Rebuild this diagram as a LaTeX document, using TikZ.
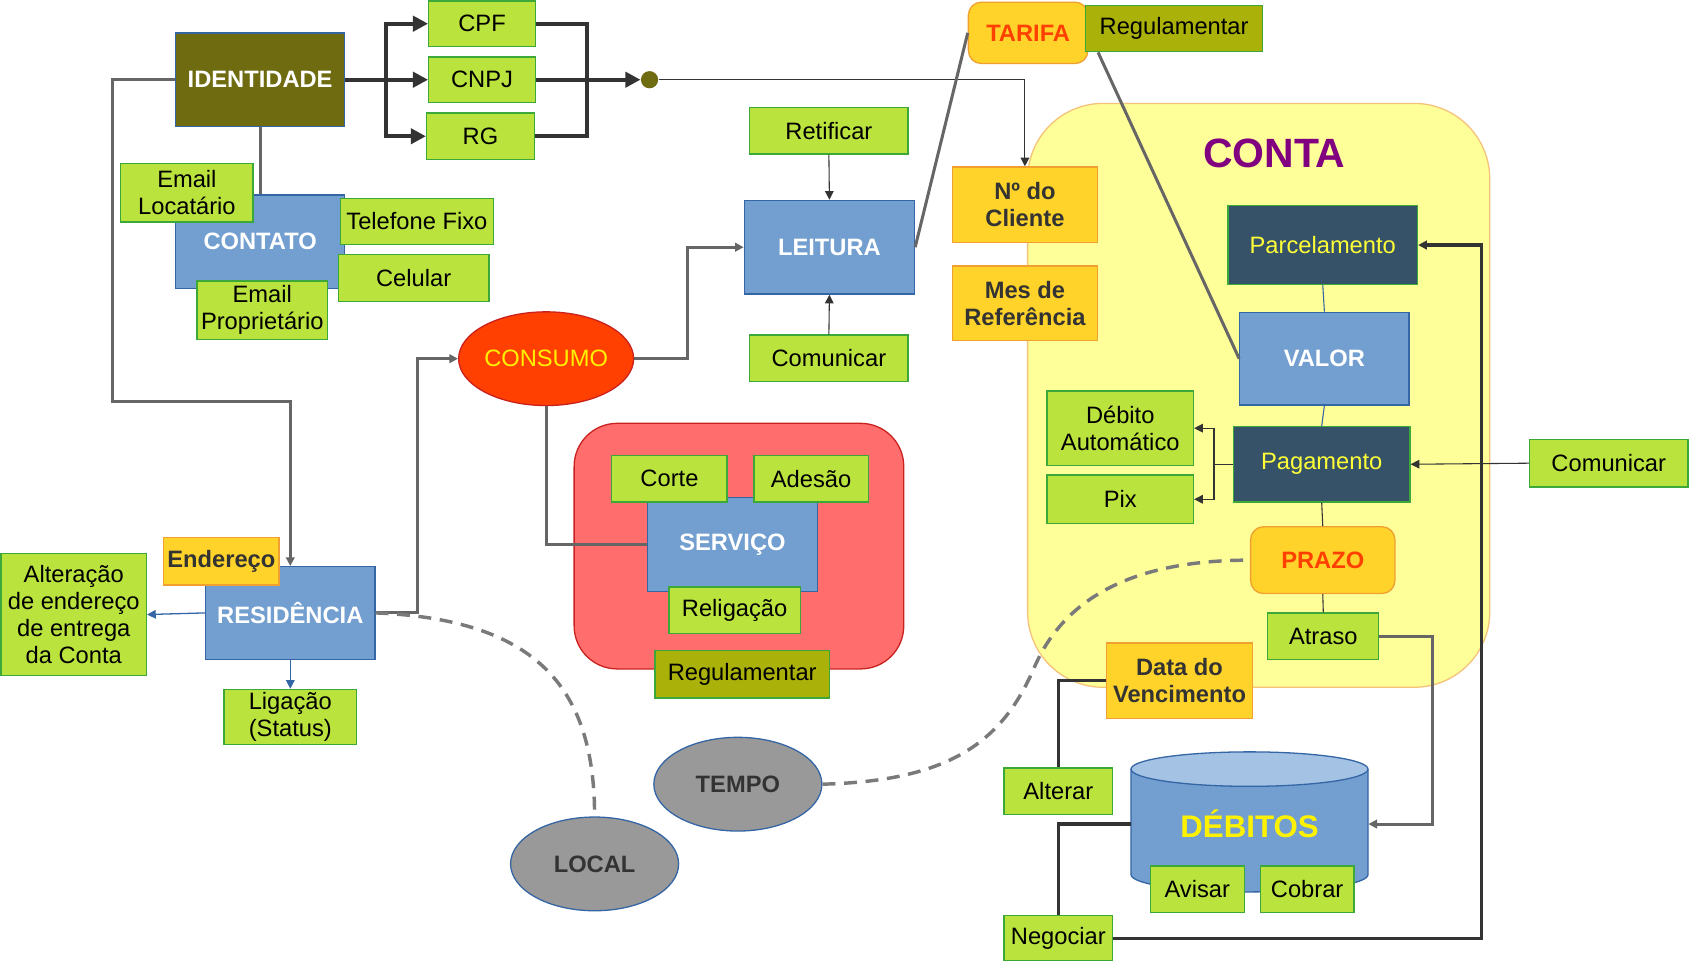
\documentclass[tikz,border=0pt]{standalone}
\usepackage{fontspec}
\setmainfont{Liberation Sans}
\usetikzlibrary{arrows.meta,shapes.geometric,calc}
\definecolor{grn}{HTML}{BBE33E}
\definecolor{grnb}{HTML}{3DA83A}
\definecolor{blu}{HTML}{729FCF}
\definecolor{blub}{HTML}{3465A4}
\definecolor{slate}{HTML}{355269}
\definecolor{gold}{HTML}{FFD32A}
\definecolor{goldb}{HTML}{F0A030}
\definecolor{olv}{HTML}{6F6B10}
\definecolor{olv2}{HTML}{AAB20A}
\definecolor{consc}{HTML}{FF4000}
\definecolor{consb}{HTML}{C9211E}
\definecolor{redr}{HTML}{FF6D6D}
\definecolor{redb}{HTML}{C9211E}
\definecolor{yelr}{HTML}{FFFF99}
\definecolor{yelb}{HTML}{F5C27A}
\definecolor{gry}{HTML}{999999}
\definecolor{txtd}{HTML}{333333}
\definecolor{lnc}{HTML}{666666}
\definecolor{tarc}{HTML}{FF4000}
\definecolor{purp}{HTML}{800080}
\definecolor{ylw}{HTML}{FFFF38}
\definecolor{cylt}{HTML}{A4C2E4}
\newcommand{\fsn}{\fontsize{11}{12.5}\selectfont}
\tikzset{
 sz/.style 2 args={minimum width=#1*0.5pt, minimum height=#2*0.5pt},
 base/.style={draw, line width=0.6pt, inner sep=1pt, align=center, font=\fsn},
 gbox/.style={base, fill=grn, draw=grnb},
 bbox/.style={base, fill=blu, draw=blub, text=white, font=\fsn\bfseries},
 dbox/.style={base, fill=slate, draw=grnb, text=ylw},
 obox/.style={base, fill=gold, draw=goldb, text=txtd, font=\fsn\bfseries},
 rbox/.style={obox, rounded corners=6pt, text=tarc},
 lbox/.style={base, fill=olv2, draw=grnb},
 ell/.style={ellipse, draw=blub, line width=0.6pt, inner sep=0pt, font=\fsn\bfseries, text=txtd, fill=gry},
 thk/.style={draw=txtd, line width=1.8pt},
 dk/.style={draw=txtd, line width=1.5pt},
 gl/.style={draw=lnc, line width=1.4pt},
 tn/.style={draw=txtd, line width=0.5pt},
 bt/.style={draw=blub, line width=0.6pt},
 dsh/.style={draw=gry!80!black, line width=1.6pt, dash pattern=on 6pt off 4pt},
 bigtip/.style={-{Triangle[length=7pt,width=7pt]}},
 smtip/.style={-{Triangle[length=4pt,width=4pt]}},
}
\begin{document}
\begin{tikzpicture}[x=0.5pt,y=-0.5pt]
\useasboundingbox (0,0) rectangle (1568,894);
% regions
\draw[fill=yelr, draw=yelb, line width=0.6pt, rounded corners=35pt] (954,96) rectangle (1383,638);
\node[font=\fontsize{19}{22}\selectfont\bfseries, text=purp] (conta) at (1183,142) {CONTA};
\draw[fill=redr, draw=redb, line width=0.6pt, rounded corners=20pt] (533,393) rectangle (839,621);

% identity
\node[base, fill=olv, draw=blub, text=white, font=\fsn\bfseries, sz={157}{87}] (id) at (241.5,74) {IDENTIDADE};
\node[gbox, sz={99}{42}] (cpf) at (447.5,22) {CPF};
\node[gbox, sz={99}{42}] (cnpj) at (447.5,74) {CNPJ};
\node[gbox, sz={100}{43}] (rg) at (446,126.5) {RG};
\node[circle, fill=olv, inner sep=0pt, minimum size=8pt] (dot) at (603,74) {};

% contact
\node[bbox, sz={157}{87}] (contato) at (241.5,224.5) {CONTATO};
\node[gbox, sz={123}{54}] (emloc) at (173.5,179) {Email\\Locatário};
\node[gbox, sz={142}{43}] (tel) at (387,205.5) {Telefone Fixo};
\node[gbox, sz={140}{44}] (cel) at (384,258) {Celular};
\node[gbox, sz={121}{54}] (emprop) at (243.5,288) {Email\\Proprietário};

% consumo / leitura
\node[ell, fill=consc, draw=consb, text=yellow, font=\fsn, minimum width=78pt, minimum height=43.5pt] (cons) at (507,333) {CONSUMO};
\node[bbox, sz={158}{87}] (leit) at (770,229.5) {LEITURA};
\node[gbox, sz={147}{43}] (retif) at (769.5,121.5) {Retificar};
\node[gbox, sz={147}{43}] (com1) at (769.5,332.5) {Comunicar};

% tarifa
\node[rbox, sz={111}{57}] (tarifa) at (954.5,30.5) {TARIFA};
\node[lbox, sz={164}{43}] (reg1) at (1090,26.5) {Regulamentar};
\node[obox, sz={135}{70}] (ndc) at (951.5,190) {Nº do\\Cliente};
\node[obox, sz={135}{69}] (mes) at (951.5,281.5) {Mes de\\Referência};

% conta inner
\node[dbox, sz={176}{73}] (parc) at (1228,227.5) {Parcelamento};
\node[bbox, sz={157}{86}] (valor) at (1229.5,333) {VALOR};
\node[dbox, sz={164}{70}] (pag) at (1227,431) {Pagamento};
\node[gbox, sz={136}{69}] (deb) at (1040,397.5) {Débito\\Automático};
\node[gbox, sz={136}{45}] (pix) at (1040,463.5) {Pix};
\node[gbox, sz={147}{44}] (com2) at (1493.5,430) {Comunicar};
\node[rbox, sz={134}{62}] (prazo) at (1228,520) {PRAZO};
\node[gbox, sz={103}{43}] (atraso) at (1228.5,590.5) {Atraso};
\node[obox, sz={136}{70}] (dv) at (1095,632) {Data do\\Vencimento};
\node[gbox, sz={101}{43}] (alt) at (982.5,734.5) {Alterar};

% debitos cylinder
\draw[fill=blu, draw=blub, line width=0.6pt] (1050,714) -- (1050,812) arc[start angle=180, end angle=360, x radius=55pt, y radius=8pt] -- (1270,714);
\draw[fill=cylt, draw=blub, line width=0.6pt] (1160,714) ellipse[x radius=55pt, y radius=8pt];
\node[inner sep=0pt, sz={220}{130}, font=\fontsize{14.5}{16}\selectfont\bfseries, text=yellow] (debitos) at (1160,765) {\raisebox{-3pt}{DÉBITOS}};
\node[gbox, sz={87}{43}] (avisar) at (1111.5,825.5) {Avisar};
\node[gbox, sz={87}{43}] (cobrar) at (1213.5,825.5) {Cobrar};
\node[gbox, sz={101}{42}] (neg) at (982.5,871) {Negociar};

% servico
\node[bbox, sz={158}{87}] (serv) at (680,505.5) {SERVIÇO};
\node[gbox, sz={107}{43}] (corte) at (621.5,444.5) {Corte};
\node[gbox, sz={106}{43}] (ades) at (753,444.5) {Adesão};
\node[gbox, sz={122}{43}] (relig) at (682,566.5) {Religação};
\node[lbox, sz={162}{44}] (reg2) at (689,626) {Regulamentar};

% residencia
\node[bbox, sz={157}{86}] (res) at (269.5,569) {RESIDÊNCIA};
\node[obox, sz={107}{44}] (end) at (205.5,521) {Endereço};
\node[gbox, sz={135}{113}] (alter) at (68.5,570.5) {Alteração\\de endereço\\de entrega\\da Conta};
\node[gbox, sz={123}{51}] (lig) at (269.5,665.5) {Ligação\\(Status)};

% ellipses
\node[ell, minimum width=78pt, minimum height=43.5pt] (tempo) at (685,728) {TEMPO};
\node[ell, minimum width=78pt, minimum height=43.5pt] (local) at (552,802) {LOCAL};

% coordinates
\coordinate (j1) at (358,74);
\coordinate (j2) at (545,74);
\coordinate (c1) at (104,373);
\coordinate (c2) at (388,333);
\coordinate (c3) at (638,229.5);
\coordinate (c4) at (1127,431);
\coordinate (c5) at (1330,765);
\coordinate (c6) at (1375,227.5);

% identity connectors
\draw[thk] (id.east) -- (j1);
\draw[thk, bigtip] (j1) |- (cpf.west);
\draw[thk, bigtip] (j1) -- (cnpj.west);
\draw[thk, bigtip] (j1) |- (rg.west);
\draw[thk] (cpf.east) -| (j2) |- (rg.east);
\draw[thk, bigtip] (cnpj.east) -- (dot.west);
\draw[tn, smtip] (dot.east) -| (ndc.north);
\draw[gl, smtip] (id.west) -| (c1) -| (res.north);
\draw[gl] (id.south) -- (contato.north);

% consumo connectors
\draw[gl, smtip] (res.east) -| (c2) -- (cons.west);
\draw[gl, smtip] (cons.east) -| (c3) -- (leit.west);
\draw[gl] (cons.south) |- (serv.west);
\draw[tn, smtip] (retif.south) -- (leit.north);
\draw[tn, smtip] (com1.north) -- (leit.south);
\draw[gl] (leit.east) -- (tarifa.west);
\draw[gl] ([xshift=6pt]reg1.south west) -- (valor.west);

% conta connectors
\draw[draw=blub, line width=0.5pt] (parc.south) -- (valor.north);
\draw[draw=blub, line width=0.5pt] (valor.south) -- (pag.north);
\draw[tn] (pag.south) -- (prazo.north);
\draw[tn] (prazo.south) -- (atraso.north);
\draw[tn] (pag.west) -- (c4);
\draw[tn, smtip] (c4) |- (deb.east);
\draw[tn, smtip] (c4) |- (pix.east);
\draw[tn, smtip] (com2.west) -- (pag.east);
\draw[gl, smtip] (atraso.east) -| (c5) -- (debitos.east);
\draw[dk] (dv.west) -| (alt.north);
\draw[dk] (debitos.west) -| (neg.north);
\draw[dk, smtip] (neg.east) -| (c6) -- (parc.east);

% residencia connectors
\draw[bt, smtip] (res.south) -- (lig.north);
\draw[bt, smtip] (res.west) -- (alter.east);

% dashed curves
\draw[dsh] (res.east) .. controls (500,575) and (552,640) .. (local.north);
\draw[dsh] (tempo.east) .. controls (880,725) and (930,690) .. (960,620) .. controls (990,550) and (1060,520) .. (prazo.west);
\end{tikzpicture}
\end{document}
